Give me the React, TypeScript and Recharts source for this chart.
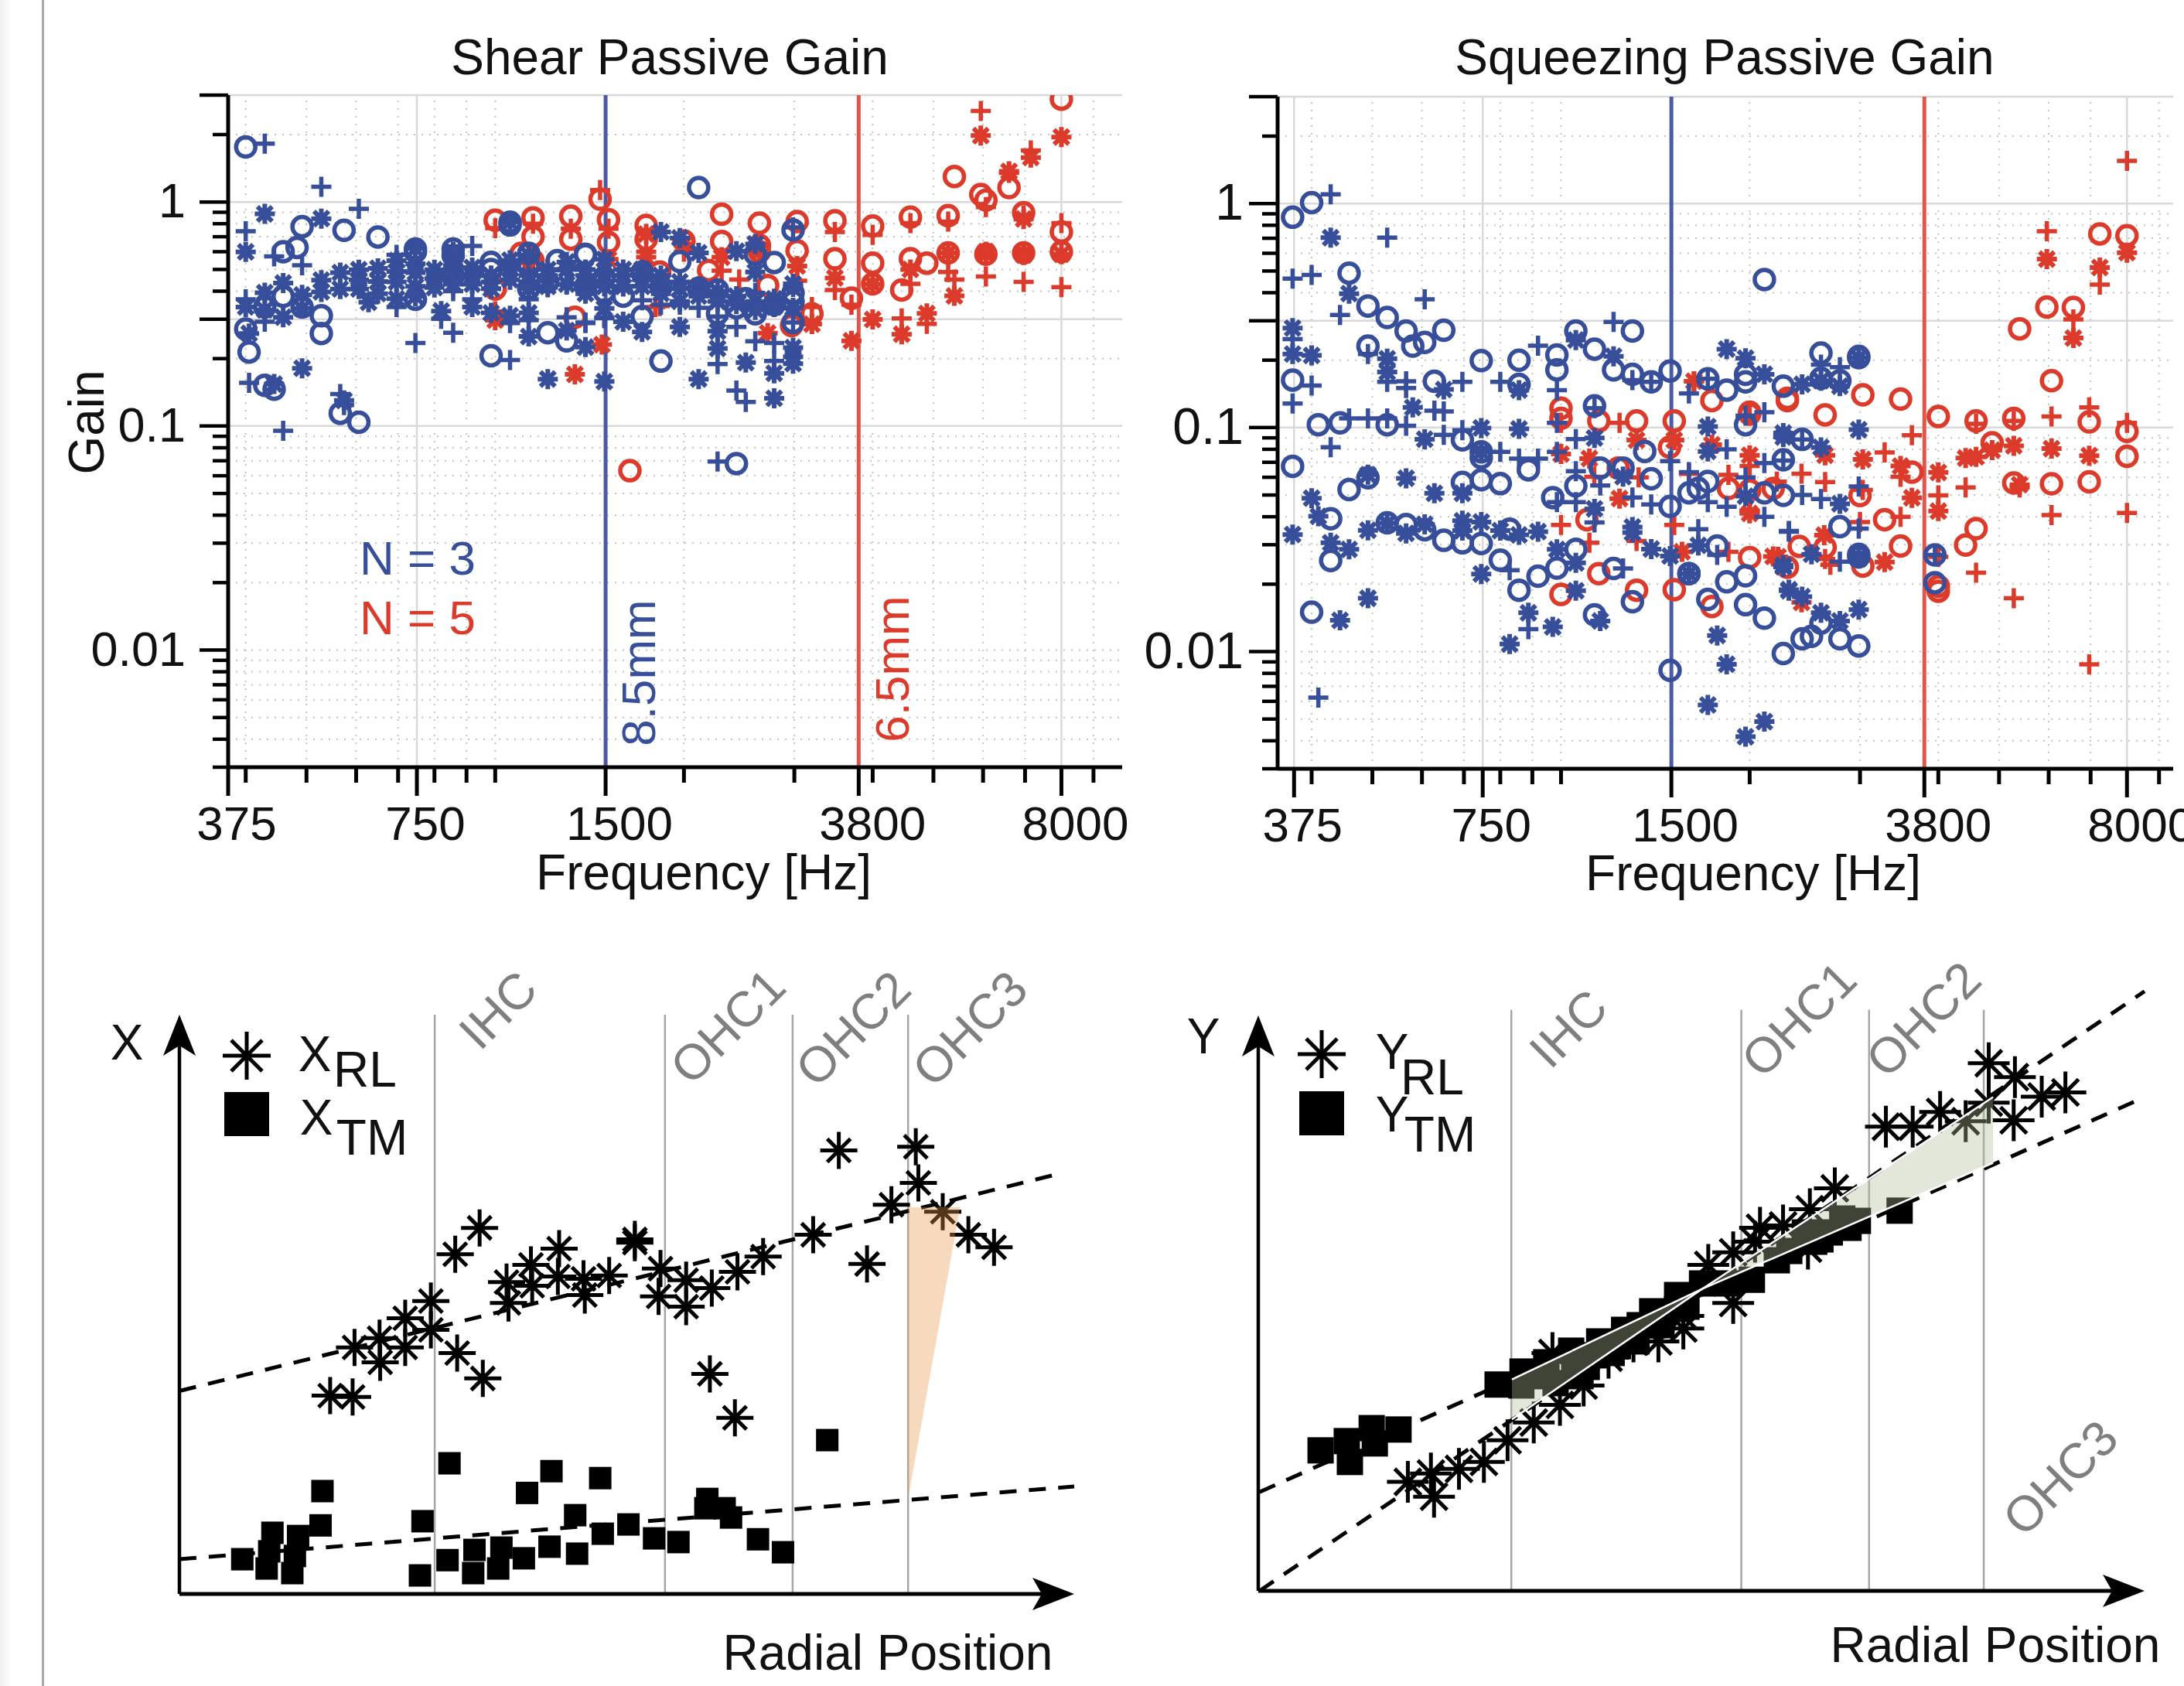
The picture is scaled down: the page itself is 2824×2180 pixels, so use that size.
import React from 'react';
import { ScatterChart, ComposedChart, Scatter, Area, XAxis, YAxis, ReferenceLine } from 'recharts';

// frequency axis
const freqMajor = [375, 750, 1500, 3800, 8000];
const freqMinor = [400, 500, 600, 700, 800, 900, 1000, 2000, 3000, 4000, 5000, 6000, 7000, 9000];
const freqSolid = [375, 750, 8000];
const freqDotted = freqMinor;
// gain axis
const gainMajor = [3, 1, 0.3, 0.1, 0.01];
const gainMinor = [2, 0.9, 0.8, 0.7, 0.6, 0.5, 0.4, 0.2, 0.09, 0.08, 0.07, 0.06, 0.05, 0.04, 0.03, 0.02, 0.009, 0.008, 0.007, 0.006, 0.005, 0.004, 0.003];
const gainSolid = [3, 1, 0.3, 0.1, 0.003];
const gainDotted = [2, 0.9, 0.8, 0.7, 0.6, 0.5, 0.4, 0.2, 0.09, 0.08, 0.07, 0.06, 0.05, 0.04, 0.03, 0.02, 0.01, 0.009, 0.008, 0.007, 0.006, 0.005, 0.004];
const gainLabels: Record<string, string> = { '1': '1', '0.1': '0.1', '0.01': '0.01' };
const cfBlue = 1500;
const cfRed = 3800;

// Shear passive gain [Hz, gain]
const shearBlueCircle = [[400,1.76],[400,.271],[405,.214],[429,.152],[444,.146],[429,.34],[459,.6],[459,.379],[483,.627],[492,.776],[492,.34],[528,.311],[528,.259],[566,.114],[606,.104],[574,.748],[650,.698],[746,.617],[746,.368],[746,.6],[857,.577],[857,.617],[857,.469],[985,.538],[985,.206],[985,.5],[1056,.813],[1056,.79],[1131,.59],[1131,.52],[1131,.41],[1213,.261],[1213,.44],[1300,.24],[1256,.547],[1360,.469],[1393,.581],[1393,.42],[1393,.585],[1493,.397],[1493,.46],[1600,.38],[1715,.487],[1715,.308],[1838,.418],[1838,.195],[1970,.542],[2111,1.16],[2111,.412],[2263,.405],[2263,.317],[2425,.337],[2425,.068],[2510,.37],[2599,.585],[2599,.317],[2786,.537],[2786,.348],[2986,.75],[2986,.393],[2986,.359],[2986,.29]];
const shearBluePlus = [[429,1.82],[400,.741],[444,.572],[492,.522],[400,.368],[429,.292],[405,.156],[528,1.17],[606,.932],[459,.0953],[566,.139],[574,.124],[746,.235],[857,.261],[1056,.197],[1393,.288],[1300,.306],[1493,.306],[857,.4],[696,.34],[696,.581],[919,.637],[820,.301],[919,.368],[1056,.288],[1131,.297],[1131,.368],[1213,.416],[1300,.428],[1600,.42],[1715,.364],[1838,.348],[1970,.348],[2111,.337],[2263,.308],[2263,.189],[2425,.277],[2425,.144],[2510,.128],[2599,.393],[2599,.239],[2786,.235],[2786,.195],[2986,.418],[2986,.337],[2986,.29],[2986,.77],[2263,.0695],[1393,.29],[1493,.303]];
const shearBlueStar = [[429,.885],[400,.599],[528,.843],[400,.34],[429,.394],[429,.33],[405,.259],[459,.435],[459,.306],[492,.385],[492,.335],[528,.448],[528,.397],[566,.484],[566,.409],[606,.499],[606,.409],[606,.45],[628,.357],[650,.506],[650,.442],[650,.39],[696,.547],[696,.49],[696,.44],[696,.37],[746,.62],[746,.53],[746,.484],[746,.42],[746,.379],[800,.499],[800,.455],[800,.415],[820,.326],[857,.52],[857,.47],[857,.6],[857,.43],[919,.51],[919,.469],[919,.43],[919,.34],[985,.47],[985,.44],[985,.41],[985,.32],[1056,.813],[1056,.55],[1056,.5],[1056,.45],[1056,.311],[1131,.58],[1131,.47],[1131,.44],[1131,.41],[1131,.32],[1131,.251],[1213,.5],[1213,.47],[1213,.42],[1213,.162],[1300,.54],[1300,.5],[1300,.43],[1300,.267],[1393,.5],[1393,.47],[1393,.43],[1393,.39],[1393,.225],[1493,.555],[1493,.47],[1493,.42],[1493,.335],[1493,.158],[1600,.5],[1600,.47],[1600,.42],[1600,.292],[1715,.5],[1715,.45],[1715,.42],[1715,.263],[1838,.735],[1838,.47],[1838,.43],[1838,.39],[1970,.691],[1970,.44],[1970,.41],[1970,.36],[1970,.277],[2111,.593],[2111,.42],[2111,.38],[2111,.162],[2263,.4],[2263,.36],[2263,.265],[2263,.222],[2425,.603],[2425,.35],[2425,.38],[2510,.192],[2599,.65],[2599,.487],[2599,.36],[2599,.33],[2786,.37],[2786,.172],[2786,.133],[2786,.34],[2986,.431],[2986,.337],[2986,.224],[2986,.204],[2986,.19],[492,.181],[444,.154],[574,.13]];
const shearRedCircle = [[1000,.83],[1149,.85],[1149,.7],[1320,.864],[1320,.683],[1470,1.03],[1516,.835],[1516,.66],[1741,.786],[1741,.681],[1100,.59],[1000,.409],[1340,.306],[1640,.0632],[1149,.547],[2000,.67],[2190,.495],[2297,.882],[2297,.667],[2639,.805],[2639,.641],[2720,.424],[2970,.281],[3031,.818],[3031,.606],[3200,.317],[3482,.825],[3482,.558],[3700,.372],[4000,.781],[4000,.533],[4000,.431],[4450,.405],[4595,.856],[4595,.558],[4880,.533],[5278,.869],[5278,.593],[5400,1.3],[5950,1.08],[6063,1.02],[6063,.585],[6600,1.16],[6964,.896],[6964,.593],[8000,.735],[8000,.6],[8000,2.88],[1830,.487],[2639,.6]];
const shearRedPlus = [[1000,.764],[1149,.8],[1320,.76],[1470,1.13],[1516,.76],[1741,.6],[1000,.325],[1800,.34],[5950,2.55],[7150,1.7],[6600,1.35],[6063,.95],[8000,.805],[5278,.818],[4595,.805],[4000,.713],[3482,.735],[3031,.445],[3482,.405],[5278,.487],[5400,.451],[6063,.465],[6964,.44],[8000,.417],[4595,.431],[4880,.286],[4450,.302],[3700,.348],[2297,.494],[2450,.451],[1830,.343],[3200,.34],[6964,.87],[2000,.6]];
const shearRedStar = [[1340,.17],[1480,.231],[1000,.297],[1149,.555],[1516,.555],[1741,.72],[5950,1.98],[8000,1.95],[7150,1.58],[6600,1.37],[6964,.84],[8000,.585],[5278,.593],[6063,.585],[6063,.6],[6964,.593],[6964,.58],[4595,.5],[3482,.458],[3031,.518],[5400,.381],[4000,.43],[4880,.318],[4000,.299],[4450,.257],[3700,.24],[3200,.285],[2720,.26],[2297,.567],[1741,.567],[2639,.6],[2000,.65]];

// Squeezing passive gain [Hz, gain]
const squeezeBlueCircle = [[373,.869],[400,1.01],[373,.163],[373,.0672],[400,.015],[410,.103],[444,.105],[459,.489],[492,.349],[528,.31],[566,.27],[580,.231],[606,.24],[650,.272],[492,.231],[528,.103],[459,.0529],[492,.0597],[528,.0376],[566,.0369],[606,.035],[650,.0314],[696,.0306],[746,.0304],[429,.0392],[429,.0255],[628,.161],[746,.199],[857,.2],[857,.156],[696,.0882],[696,.0569],[746,.0585],[800,.0562],[887,.0648],[746,.0734],[746,.078],[828,.0352],[800,.0256],[857,.0188],[919,.0217],[985,.0236],[970,.0487],[1056,.0549],[985,.211],[985,.181],[1056,.27],[1131,.224],[1131,.125],[1213,.181],[1300,.173],[1393,.16],[1493,.179],[1300,.27],[1155,.066],[1256,.066],[1056,.0286],[1131,.0146],[1300,.0167],[1213,.0235],[1393,.0591],[1493,.0445],[1493,.00825],[1360,.0783],[1600,.0223],[1600,.0223],[1600,.0511],[1715,.165],[1838,.147],[1970,.173],[1970,.16],[2111,.458],[1970,.103],[1775,.0296],[1838,.0205],[1715,.0171],[1970,.0218],[1970,.0162],[2111,.0141],[2111,.0511],[2263,.0098],[2263,.153],[2263,.0718],[2263,.0498],[1715,.0575],[1656,.0535],[2425,.0886],[2425,.0114],[2510,.0117],[2599,.215],[2599,.166],[2599,.0134],[2786,.162],[2786,.0361],[2786,.0114],[2986,.205],[2986,.208],[2986,.0265],[2986,.0272],[2986,.0106],[3950,.027],[3950,.0203]];
const squeezeBluePlus = [[429,1.1],[373,.462],[400,.48],[528,.704],[373,.248],[444,.318],[606,.374],[919,.232],[1213,.296],[373,.128],[400,.154],[492,.213],[566,.161],[528,.16],[566,.15],[696,.16],[800,.16],[985,.147],[1300,.163],[1393,.16],[1600,.142],[1715,.165],[429,.0817],[459,.11],[492,.11],[528,.11],[566,.102],[628,.119],[650,.118],[650,.0928],[696,.0973],[746,.078],[800,.078],[857,.0727],[919,.0727],[985,.078],[985,.105],[1056,.0889],[1131,.122],[1056,.0639],[1155,.0551],[1056,.0465],[985,.0465],[1131,.0377],[1300,.0488],[1393,.0454],[1493,.0709],[1600,.0632],[1715,.0465],[1838,.0443],[1970,.113],[2111,.117],[2111,.0694],[1838,.0799],[2111,.04],[1970,.06],[2310,.0343],[1656,.0352],[1775,.027],[1256,.0235],[828,.0231],[887,.0126],[410,.00623],[2263,.0713],[2425,.0885],[2786,.186],[2599,.191],[2986,.0546],[2986,.0354],[2310,.0346],[2425,.05],[2599,.048],[2786,.0252],[3950,.027]];
const squeezeBlueStar = [[429,.704],[459,.396],[373,.278],[373,.213],[400,.21],[528,.203],[528,.177],[650,.148],[857,.147],[580,.123],[746,.0996],[857,.0987],[606,.0887],[746,.078],[566,.0594],[492,.0616],[400,.0484],[410,.0402],[628,.0509],[696,.0509],[373,.0333],[429,.0306],[459,.0286],[492,.0348],[528,.0374],[566,.0337],[606,.037],[696,.0384],[696,.0347],[746,.0379],[800,.0347],[857,.0332],[919,.0343],[746,.0222],[492,.0173],[444,.0138],[828,.0108],[887,.0149],[970,.0129],[1056,.0187],[1155,.0137],[985,.0286],[1056,.0249],[1131,.0434],[1131,.0899],[1213,.208],[1056,.246],[1838,.224],[1970,.204],[2111,.173],[1715,.101],[2263,.0908],[1715,.0783],[1300,.036],[1300,.034],[1393,.0287],[1493,.0267],[1656,.0298],[1256,.0604],[1600,.0223],[1775,.0118],[1838,.00878],[1715,.00578],[1970,.00417],[2111,.00487],[2263,.0239],[2310,.0187],[1970,.0494],[2425,.156],[2599,.162],[2786,.153],[2986,.205],[2986,.0979],[2263,.0945],[2599,.0816],[2786,.0457],[2263,.0243],[2510,.0272],[2986,.0265],[2986,.026],[2310,.0189],[2425,.0176],[2599,.0149],[2786,.0137],[2986,.0154]];
const squeezeRedCircle = [[1000,.122],[1000,.11],[1149,.107],[1320,.107],[1516,.107],[1490,.0817],[1741,.132],[2000,.115],[2297,.132],[1000,.018],[1100,.0388],[1149,.0223],[1320,.0188],[1516,.0189],[1741,.0159],[2000,.0263],[1234,.066],[1850,.0535],[2000,.0526],[2180,.0535],[7240,.732],[8000,.719],[5960,.345],[6570,.344],[5393,.276],[6063,.162],[3482,.134],[4000,.112],[4595,.107],[5278,.11],[4875,.0855],[6964,.106],[8000,.0962],[8000,.0744],[3031,.14],[2639,.114],[2297,.135],[2000,.117],[5278,.0566],[6063,.0561],[6964,.0573],[4595,.0354],[4422,.0299],[3482,.0296],[3284,.0388],[4000,.0196],[4000,.0186],[3630,.0633],[3000,.0497],[2639,.0292],[2400,.0295],[3031,.0241],[2297,.0238]];
const squeezeRedPlus = [[8000,1.55],[5960,.752],[7240,.435],[6570,.304],[6063,.112],[6964,.123],[8000,.105],[5278,.107],[4595,.104],[3630,.0925],[3284,.0774],[4422,.0541],[4000,.0498],[3482,.04],[3482,.0603],[5393,.0541],[6063,.0407],[8000,.0416],[4595,.0225],[5278,.0173],[6964,.00878],[4000,.0265],[3031,.0527],[3000,.0379],[2639,.0571],[2420,.0622],[2639,.0259],[2690,.0244],[2000,.0674],[2000,.0422],[1600,.0621],[1000,.0368],[1000,.105],[1240,.105],[1110,.0306],[1130,.0603],[1320,.0312],[1516,.0368],[1850,.0279],[1630,.161],[2000,.113],[1850,.0615],[1330,.06],[2210,.0574],[2000,.0427]];
const squeezeRedStar = [[5960,.565],[7240,.518],[8000,.604],[6570,.251],[5278,.0829],[6063,.0806],[6964,.0749],[4422,.0731],[4595,.074],[4875,.0793],[4000,.0631],[4000,.0424],[3482,.0674],[3630,.0486],[3031,.0721],[2639,.0752],[3284,.0251],[5393,.0556],[2220,.0265],[2420,.0166],[2000,.0752],[1741,.0838],[1560,.0279],[2630,.0331],[1000,.0762],[1110,.0727],[1240,.0482],[1320,.0879],[1516,.0879],[1630,.161],[2180,.0266],[2000,.0414]];

// Radial position schematics, arbitrary units [position, displacement]
const xRl = [[235,428],[270,425],[273,532],[313,500],[312,552],[352,532],[352,595],[392,632],[392,570],[433,520],[473,465],[430,733],[468,790],[510,673],[513,628],[548,710],[550,665],[592,745],[590,685],[630,680],[632,645],[670,687],[710,765],[710,758],[750,702],[747,642],[790,677],[790,620],[830,660],[870,695],[910,728],[827,475],[866,380],[988,775],[1028,957],[1072,712],[1110,840],[1148,965],[1152,887],[1190,825],[1230,775],[1270,748]];
const xTm = [[98,75],[136,55],[140,92],[145,132],[176,45],[180,82],[185,125],[220,148],[223,222],[375,40],[379,157],[418,73],[421,282],[458,45],[460,95],[497,55],[502,100],[537,77],[542,218],[577,102],[580,265],[617,170],[620,87],[656,250],[660,130],[700,150],[740,120],[778,112],[820,185],[823,205],[850,185],[860,165],[902,118],[941,90],[1010,332]];
const xCells = [398, 757, 956, 1136];
const xFitRl = [[0, 438], [1375, 908]];
const xFitTm = [[0, 75], [1395, 232]];
const xWedge = [{ x: 1136, band: [205, 835] }, { x: 1217, band: [835, 835] }];
const yRl = [[240,235],[277,253],[282,203],[322,263],[362,278],[400,325],[442,363],[484,401],[522,443],[562,503],[602,538],[642,538],[682,566],[682,593],[722,703],[762,730],[762,621],[805,783],[842,788],[885,823],[925,868],[882,738],[472,513],[1007,1001],[1050,1001],[1094,1033],[1135,1013],[1172,1138],[1214,1108],[1212,1015],[1257,1066],[1295,1075],[1172,1053],[797,753]];
const yTm = [[384,445],[424,473],[422,443],[462,493],[462,463],[477,448],[502,518],[507,483],[517,463],[527,483],[542,508],[547,538],[567,513],[577,528],[587,563],[607,538],[612,573],[632,603],[632,573],[647,573],[672,638],[672,608],[687,613],[712,663],[752,663],[792,671],[832,713],[852,733],[877,773],[892,753],[902,758],[917,773],[937,803],[947,783],[962,798],[1029,820],[100,303],[142,323],[147,278],[182,351],[187,318],[225,348]];
const yCells = [406, 775, 980, 1164];
const yFitRl = [[2, 0], [1422, 1293]];
const yFitTm = [[2, 213], [1422, 1065]];
const yWedge = [{ x: 407, band: [370, 456] }, { x: 712, band: [651, 651] }, { x: 1179, band: [923, 1065] }];

const BLUE = '#374e9b';
const RED = '#dc3a2a';
const FONT = '"Liberation Sans", Arial, sans-serif';
const W = 2824;
const H = 2180;

const pts = (rows: number[][]) => rows.map(([x, y]) => ({ x, y }));

const Circle = (color: string) => (p: any) => <circle cx={p.cx} cy={p.cy} r={12.5} fill="none" stroke={color} strokeWidth={5.5} />;
const Plus = (color: string) => (p: any) => (
  <path d={`M${p.cx - 13} ${p.cy}H${p.cx + 13}M${p.cx} ${p.cy - 13}V${p.cy + 13}`} stroke={color} strokeWidth={5.5} fill="none" />
);
const starPath = (cx: number, cy: number, r: number, d: number) =>
  `M${cx - r} ${cy}H${cx + r}M${cx} ${cy - r}V${cy + r}M${cx - d} ${cy - d}L${cx + d} ${cy + d}M${cx - d} ${cy + d}L${cx + d} ${cy - d}`;
const Star = (color: string) => (p: any) => <path d={starPath(p.cx, p.cy, 13, 9.5)} stroke={color} strokeWidth={6} fill="none" />;
const BigStar = (r: number, d: number) => (p: any) => <path d={starPath(p.cx, p.cy, r, d)} stroke="#000" strokeWidth={5} fill="none" />;
const Square = (size: number) => (p: any) => <rect x={p.cx - size / 2} y={p.cy - size / 2} width={size} height={size} fill="#000" />;

const Txt = ({ x, y, size = 64, color = '#111', rot = 0, children }: any) => (
  <div style={{ position: 'absolute', left: x, top: y, fontFamily: FONT, fontSize: size, lineHeight: 1, color, whiteSpace: 'nowrap', transform: `translate(-50%,-50%) rotate(${rot}deg)` }}>{children}</div>
);

function GainPanel({ left, right, top, bottom, domainX, labelGap, labelSize, series }: any) {
  const xTick = (p: any) => {
    const major = freqMajor.includes(p.payload.value);
    const s = String(p.payload.value);
    return (
      <g>
        <line x1={p.x} x2={p.x} y1={p.y} y2={p.y + (major ? 37 : 20)} stroke="#000" strokeWidth={5} />
        {major && <text x={p.x + (s.length === 3 ? 11 : 18)} y={p.y + 72} textAnchor="middle" dominantBaseline="central" fontSize={62} fontFamily={FONT} fill="#111">{s}</text>}
      </g>
    );
  };
  const yTick = (p: any) => {
    const major = gainMajor.includes(p.payload.value);
    const s = gainLabels[String(p.payload.value)];
    return (
      <g>
        <line x1={p.x} x2={p.x - (major ? 37 : 20)} y1={p.y} y2={p.y} stroke="#000" strokeWidth={4.5} />
        {s && <text x={p.x - labelGap} y={p.y - 2} textAnchor="end" dominantBaseline="central" fontSize={labelSize} fontFamily={FONT} fill="#111">{s}</text>}
      </g>
    );
  };
  return (
    <div style={{ position: 'absolute', left: 0, top: 0 }}>
      <ScatterChart width={W} height={H} margin={{ left: left - 1, right: W - right, top, bottom: H - bottom - 1 }}>
        <XAxis type="number" dataKey="x" scale="log" domain={domainX} allowDataOverflow ticks={[...freqMajor, ...freqMinor].sort((a, b) => a - b)} interval={0} height={1} tickSize={0} tickMargin={0} tick={xTick} axisLine={{ stroke: '#000', strokeWidth: 5 }} tickLine={false} />
        <YAxis type="number" dataKey="y" scale="log" domain={[0.003, 3]} allowDataOverflow ticks={[...gainMajor, ...gainMinor]} interval={0} width={1} tickSize={0} tickMargin={0} tick={yTick} axisLine={{ stroke: '#000', strokeWidth: 5 }} tickLine={false} />
        {gainDotted.map((g) => <ReferenceLine key={`gd${g}`} y={g} stroke="#c4c4c4" strokeWidth={2} strokeDasharray="2 8" />)}
        {freqDotted.map((f) => <ReferenceLine key={`fd${f}`} x={f} stroke="#c4c4c4" strokeWidth={2} strokeDasharray="2 8" />)}
        {gainSolid.map((g) => <ReferenceLine key={`gs${g}`} y={g} stroke="#d9d9d9" strokeWidth={2.5} />)}
        {freqSolid.map((f) => <ReferenceLine key={`fs${f}`} x={f} stroke="#d9d9d9" strokeWidth={2.5} />)}
        <Scatter data={pts(series.redCircle)} shape={Circle(RED)} isAnimationActive={false} />
        <Scatter data={pts(series.redPlus)} shape={Plus(RED)} isAnimationActive={false} />
        <Scatter data={pts(series.redStar)} shape={Star(RED)} isAnimationActive={false} />
        <Scatter data={pts(series.blueCircle)} shape={Circle(BLUE)} isAnimationActive={false} />
        <Scatter data={pts(series.bluePlus)} shape={Plus(BLUE)} isAnimationActive={false} />
        <Scatter data={pts(series.blueStar)} shape={Star(BLUE)} isAnimationActive={false} />
        <ReferenceLine x={cfBlue} stroke="#4a5aa6" strokeWidth={5} />
        <ReferenceLine x={cfRed} stroke="#e0564b" strokeWidth={5} />
      </ScatterChart>
    </div>
  );
}

function RadialPanel({ left, right, top, bottom, maxX, maxY, axisX, axisY, cells, cellTop, fits, wedge, wedgeFill, wedgeStroke, rl, tm, squareSize, starR, starD }: any) {
  const dash = { stroke: '#000', strokeWidth: 5, strokeDasharray: '22 16' };
  return (
    <div style={{ position: 'absolute', left: 0, top: 0 }}>
      <ComposedChart width={W} height={H} margin={{ left, right: W - right, top, bottom: H - bottom }}>
        <XAxis type="number" dataKey="x" domain={[0, maxX]} hide />
        <YAxis type="number" dataKey="y" domain={[0, maxY]} hide />
        {cells.map((c: number) => <ReferenceLine key={c} segment={[{ x: c, y: 0 }, { x: c, y: cellTop }]} stroke="#a6a6a6" strokeWidth={2.5} />)}
        {fits.map((f: number[][], i: number) => <ReferenceLine key={`fit${i}`} segment={[{ x: f[0][0], y: f[0][1] }, { x: f[1][0], y: f[1][1] }]} {...dash} />)}
        <Scatter data={pts(tm)} shape={Square(squareSize)} isAnimationActive={false} />
        <Scatter data={pts(rl)} shape={BigStar(starR, starD)} isAnimationActive={false} />
        <Area data={wedge} dataKey="band" type="linear" fill={wedgeFill} fillOpacity={0.36} stroke={wedgeStroke} strokeWidth={2.5} dot={false} activeDot={false} isAnimationActive={false} zIndex={800} />
        <ReferenceLine segment={[{ x: 0, y: 0 }, { x: 0, y: axisY }]} stroke="#000" strokeWidth={4.5} />
        <ReferenceLine segment={[{ x: 0, y: 0 }, { x: axisX, y: 0 }]} stroke="#000" strokeWidth={5} />
      </ComposedChart>
    </div>
  );
}

const ArrowUp = (x: number, tip: number) => `M${x} ${tip}L${x + 21} ${tip + 53}L${x} ${tip + 40}L${x - 21} ${tip + 53}Z`;
const ArrowRight = (tip: number, y: number) => `M${tip} ${y}L${tip - 54} ${y + 21}L${tip - 42} ${y}L${tip - 54} ${y - 21}Z`;

export default function App() {
  return (
    <div style={{ position: 'absolute', left: 0, top: 0, width: W, height: H, background: '#fff', overflow: 'hidden' }}>
      <div style={{ position: 'absolute', left: 0, top: 0, width: 16, height: H, background: 'linear-gradient(to right,#f0f0f0,#fff)' }} />
      <div style={{ position: 'absolute', left: 54, top: 0, width: 3, height: H, background: '#a8a8ac' }} />
      <GainPanel left={295} right={1451} top={123} bottom={992} domainX={[375, 10000]} labelGap={55} labelSize={63}
        series={{ blueCircle: shearBlueCircle, bluePlus: shearBluePlus, blueStar: shearBlueStar, redCircle: shearRedCircle, redPlus: shearRedPlus, redStar: shearRedStar }} />
      <GainPanel left={1652} right={2810} top={125} bottom={994} domainX={[353, 9480]} labelGap={44} labelSize={66}
        series={{ blueCircle: squeezeBlueCircle, bluePlus: squeezeBluePlus, blueStar: squeezeBlueStar, redCircle: squeezeRedCircle, redPlus: squeezeRedPlus, redStar: squeezeRedStar }} />
      <RadialPanel left={232} right={1389} top={1312} bottom={2061} maxX={1395} maxY={1250} axisX={1360} axisY={1210} cells={xCells} cellTop={1250} fits={[xFitRl, xFitTm]} wedge={xWedge} wedgeFill="#ea9549" wedgeStroke="none" rl={xRl} tm={xTm} squareSize={29} starR={24} starD={15} />
      <RadialPanel left={1627} right={2773} top={1277.6} bottom={2057} maxX={1422} maxY={1300} axisX={1390} axisY={1200} cells={yCells} cellTop={1253} fits={[yFitRl, yFitTm]} wedge={yWedge} wedgeFill="#b2bd98" wedgeStroke="#fff" rl={yRl} tm={yTm} squareSize={34} starR={27} starD={17} />

      <svg width={W} height={H} style={{ position: 'absolute', left: 0, top: 0 }}>
        <path d={ArrowUp(232, 1312)} fill="#000" />
        <path d={ArrowRight(1389, 2061)} fill="#000" />
        <path d={ArrowUp(1627, 1313)} fill="#000" />
        <path d={ArrowRight(2773, 2057)} fill="#000" />
        <path d={starPath(319, 1365, 31, 20)} stroke="#000" strokeWidth={5} fill="none" />
        <rect x={290} y={1412} width={58} height={57} fill="#000" />
        <path d={starPath(1709, 1363, 31, 20)} stroke="#000" strokeWidth={5} fill="none" />
        <rect x={1680} y={1411} width={58} height={57} fill="#000" />
      </svg>

      <Txt x={866} y={74}>Shear Passive Gain</Txt>
      <Txt x={2230} y={74}>Squeezing Passive Gain</Txt>
      <Txt x={910} y={1128}>Frequency [Hz]</Txt>
      <Txt x={2267} y={1129}>Frequency [Hz]</Txt>
      <Txt x={112} y={546} rot={-90}>Gain</Txt>
      <Txt x={540} y={722} size={62} color={BLUE}>N = 3</Txt>
      <Txt x={540} y={799} size={62} color={RED}>N = 5</Txt>
      <Txt x={826} y={870} size={62} color={BLUE} rot={-90}>8.5mm</Txt>
      <Txt x={1154} y={865} size={62} color={RED} rot={-90}>6.5mm</Txt>

      <Txt x={164} y={1348}>X</Txt>
      <Txt x={407} y={1363}>X</Txt>
      <Txt x={472} y={1383}>RL</Txt>
      <Txt x={409} y={1445}>X</Txt>
      <Txt x={481} y={1471}>TM</Txt>
      <Txt x={1148} y={2137}>Radial Position</Txt>
      <Txt x={644} y={1306} color="#7f7f7f" rot={-45}>IHC</Txt>
      <Txt x={941} y={1327} color="#7f7f7f" rot={-45}>OHC1</Txt>
      <Txt x={1103} y={1330} color="#7f7f7f" rot={-45}>OHC2</Txt>
      <Txt x={1254} y={1330} color="#7f7f7f" rot={-45}>OHC3</Txt>

      <Txt x={1556} y={1340}>Y</Txt>
      <Txt x={1800} y={1360}>Y</Txt>
      <Txt x={1852} y={1393}>RL</Txt>
      <Txt x={1800} y={1441}>Y</Txt>
      <Txt x={1862} y={1467}>TM</Txt>
      <Txt x={2580} y={2127}>Radial Position</Txt>
      <Txt x={2028} y={1330} color="#7f7f7f" rot={-45}>IHC</Txt>
      <Txt x={2326} y={1318} color="#7f7f7f" rot={-45}>OHC1</Txt>
      <Txt x={2487} y={1318} color="#7f7f7f" rot={-45}>OHC2</Txt>
      <Txt x={2664} y={1911} color="#7f7f7f" rot={-45}>OHC3</Txt>
    </div>
  );
}
